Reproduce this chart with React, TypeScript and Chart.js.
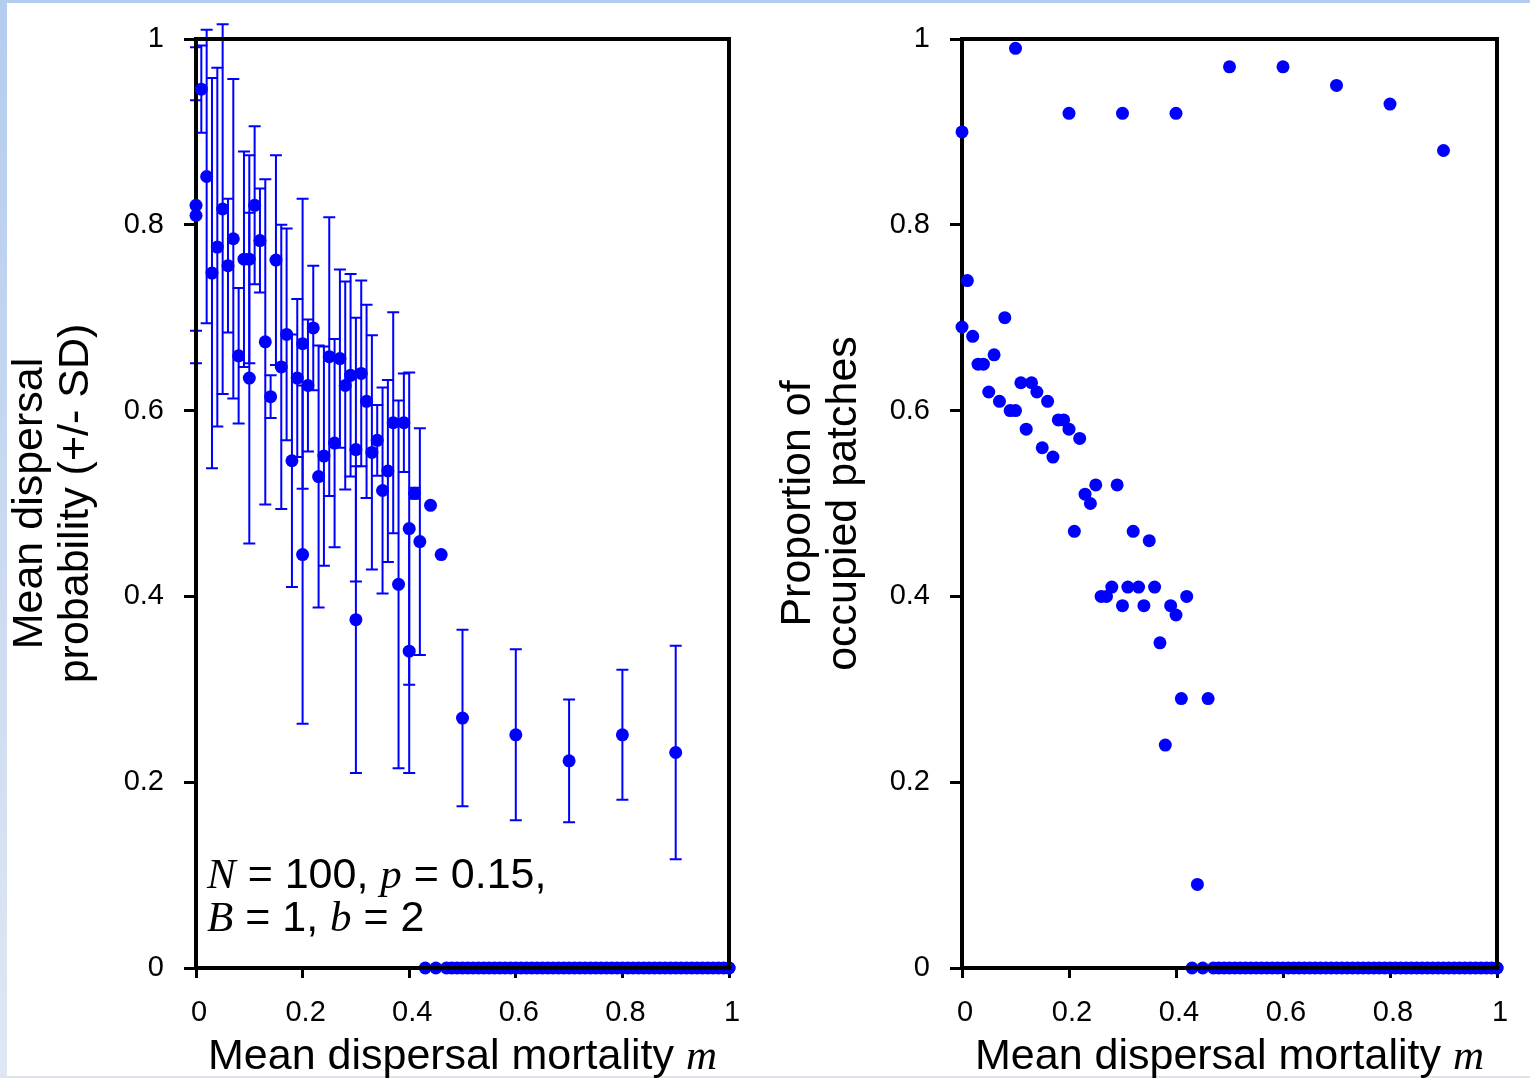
import React, { useEffect, useRef } from 'react';
import { Chart, registerables } from 'chart.js';

Chart.register(...registerables);

// ---------- data ----------
// finely spaced mortality values (one simulation set)
const fineM = [
  0.0, 0.01, 0.02, 0.03, 0.04, 0.05, 0.06, 0.07, 0.08, 0.09,
  0.1, 0.11, 0.12, 0.13, 0.14, 0.15, 0.16, 0.17, 0.18, 0.19,
  0.2, 0.21, 0.22, 0.23, 0.24, 0.25, 0.26, 0.27, 0.28, 0.29,
  0.3, 0.31, 0.32, 0.33, 0.34, 0.35, 0.36, 0.37, 0.38, 0.39,
  0.4, 0.41, 0.42, 0.43, 0.44, 0.45, 0.46,
];
// mortality values where the metapopulation went extinct (both panels at 0)
const extinctM = [
  0.47, 0.48, 0.49, 0.5, 0.51, 0.52, 0.53, 0.54, 0.55, 0.56, 0.57, 0.58, 0.59,
  0.6, 0.61, 0.62, 0.63, 0.64, 0.65, 0.66, 0.67, 0.68, 0.69, 0.7, 0.71, 0.72,
  0.73, 0.74, 0.75, 0.76, 0.77, 0.78, 0.79, 0.8, 0.81, 0.82, 0.83, 0.84, 0.85,
  0.86, 0.87, 0.88, 0.89, 0.9, 0.91, 0.92, 0.93, 0.94, 0.95, 0.96, 0.97, 0.98,
  0.99, 1.0,
];
const extinctValue = [0];
// coarsely spaced mortality values (second simulation set)
const coarseM = [0, 0.1, 0.2, 0.3, 0.4, 0.5, 0.6, 0.7, 0.8, 0.9, 1.0];

const leftFineMean = [
  0.81, 0.946, 0.852, 0.748, 0.776, 0.817, 0.756, 0.785, 0.659, 0.763,
  0.763, 0.821, 0.783, 0.674, 0.615, 0.762, 0.647, 0.682, 0.546, 0.635,
  0.672, 0.627, 0.689, 0.529, 0.551, 0.658, 0.565, 0.656, 0.627, 0.638,
  0.558, 0.64, 0.61, 0.555, 0.568, 0.514, 0.535, 0.587, 0.413, 0.587,
  0.473, 0.511, 0.459, 0, 0.498, 0, 0.445,
];
const leftFineSD = [
  0.124, 0.047, 0.158, 0.21, 0.193, 0.199, 0.072, 0.172, 0.073, 0.116,
  0.112, 0.085, 0.056, 0.175, 0.023, 0.113, 0.153, 0.114, 0.136, 0.085,
  0.156, 0.071, 0.067, 0.141, 0.118, 0.15, 0.112, 0.096, 0.112, 0.109,
  0.142, 0.1, 0.104, 0.126, 0.038, 0.111, 0.098, 0.119, 0.198, 0.053,
  0.168, 0.006, 0.122, 0, 0, 0, 0,
];
const leftCoarseMean = [0.821, 0.635, 0.445, 0.375, 0.341, 0.269, 0.251, 0.223, 0.251, 0.232, 0];
const leftCoarseSD = [0.17, 0.178, 0.182, 0.165, 0.131, 0.095, 0.092, 0.066, 0.07, 0.115, 0];

const rightFineMean = [
  0.69, 0.74, 0.68, 0.65, 0.65, 0.62, 0.66, 0.61, 0.7, 0.6,
  0.6, 0.63, 0.58, 0.63, 0.62, 0.56, 0.61, 0.55, 0.59, 0.59,
  0.58, 0.47, 0.57, 0.51, 0.5, 0.52, 0.4, 0.4, 0.41, 0.52,
  0.39, 0.41, 0.47, 0.41, 0.39, 0.46, 0.41, 0.35, 0.24, 0.39,
  0.38, 0.29, 0.4, 0, 0.09, 0, 0.29,
];
const rightCoarseMean = [0.9, 0.99, 0.92, 0.92, 0.92, 0.97, 0.97, 0.95, 0.93, 0.88, 0];

const tickValues = [0, 0.2, 0.4, 0.6, 0.8, 1];
const tickLabels = ['0', '0.2', '0.4', '0.6', '0.8', '1'];

const xTitleText = 'Mean dispersal mortality ';
const xTitleVar = 'm';
const leftYTitle = ['Mean dispersal', 'probability (+/- SD)'];
const rightYTitle = ['Proportion of', 'occupied patches'];
const annotationLine1 = [
  { t: 'N', it: true }, { t: ' = 100, ', it: false }, { t: 'p', it: true }, { t: ' = 0.15,', it: false },
];
const annotationLine2 = [
  { t: 'B', it: true }, { t: ' = 1, ', it: false }, { t: 'b', it: true }, { t: ' = 2', it: false },
];

// ---------- styling ----------
const BLUE = '#0000ff';
const SANS = '"Liberation Sans", Arial, Helvetica, sans-serif';
const SERIF = '"Liberation Serif", "Times New Roman", serif';
const TITLE_SIZE = 43;

type Pt = { x: number; y: number };
type Err = { x: number; mean: number; sd: number };

function splitPoints(ms: number[], vals: number[]) {
  const pts: Pt[] = [];
  const zeros: Pt[] = [];
  ms.forEach((m, i) => {
    if (vals[i] > 0) pts.push({ x: m, y: vals[i] });
    else zeros.push({ x: m, y: vals[i] });
  });
  return { pts, zeros };
}

function buildErrors(ms: number[], means: number[], sds: number[]): Err[] {
  const out: Err[] = [];
  ms.forEach((m, i) => {
    if (sds[i] > 0) out.push({ x: m, mean: means[i], sd: sds[i] });
  });
  return out;
}

function drawSegments(ctx: CanvasRenderingContext2D, segs: { t: string; it: boolean }[], x: number, y: number, size: number) {
  let cx = x;
  for (const s of segs) {
    ctx.font = s.it ? `italic ${size}px ${SERIF}` : `${size}px ${SANS}`;
    ctx.fillText(s.t, cx, y);
    cx += ctx.measureText(s.t).width;
  }
}

function makeConfig(opts: {
  pts: Pt[];
  zeros: Pt[];
  errors: Err[];
  yTitle: string[];
  yTitlePad: number;
  padRight: number;
  yAxisWidth: number;
  annotate: boolean;
}) {
  const overlay = {
    id: 'overlay',
    beforeDatasetDraw(chart: any, args: any) {
      if (args.index !== 0) return;
      const { ctx, chartArea: ca } = chart;
      const x = chart.scales.x;
      const y = chart.scales.y;
      ctx.save();
      ctx.strokeStyle = BLUE;
      ctx.lineWidth = 2;
      for (const e of opts.errors) {
        const px = x.getPixelForValue(e.x);
        const pt = y.getPixelForValue(e.mean + e.sd);
        const pb = y.getPixelForValue(e.mean - e.sd);
        ctx.beginPath();
        ctx.moveTo(px, pt);
        ctx.lineTo(px, pb);
        ctx.moveTo(px - 6, pt);
        ctx.lineTo(px + 6, pt);
        ctx.moveTo(px - 6, pb);
        ctx.lineTo(px + 6, pb);
        ctx.stroke();
      }
      ctx.strokeStyle = '#000';
      ctx.lineWidth = 4;
      ctx.strokeRect(ca.left, ca.top, ca.right - ca.left, ca.bottom - ca.top);
      ctx.restore();
    },
    afterDraw(chart: any) {
      const { ctx, chartArea: ca } = chart;
      ctx.save();
      ctx.fillStyle = '#000';
      ctx.textBaseline = 'alphabetic';
      ctx.textAlign = 'left';
      ctx.font = `${TITLE_SIZE}px ${SANS}`;
      const w1 = ctx.measureText(xTitleText).width;
      ctx.font = `italic ${TITLE_SIZE}px ${SERIF}`;
      const w2 = ctx.measureText(xTitleVar).width;
      const cx = (ca.left + ca.right) / 2;
      drawSegments(ctx, [{ t: xTitleText, it: false }, { t: xTitleVar, it: true }], cx - (w1 + w2) / 2, 1069, TITLE_SIZE);
      if (opts.annotate) {
        drawSegments(ctx, annotationLine1, 207, 888, 43);
        drawSegments(ctx, annotationLine2, 207, 931, 43);
      }
      ctx.restore();
    },
  };

  const tickFont = { family: SANS, size: 29 };
  return {
    type: 'scatter' as const,
    data: {
      datasets: [
        { data: opts.pts, pointRadius: 6.5, pointHoverRadius: 6.5, backgroundColor: BLUE, borderWidth: 0, clip: false },
        { data: opts.zeros, pointRadius: 6.5, pointHoverRadius: 6.5, backgroundColor: BLUE, borderWidth: 0, clip: false },
      ],
    },
    options: {
      animation: false,
      responsive: false,
      devicePixelRatio: 1,
      events: [],
      layout: { padding: { left: 0, top: 39, right: opts.padRight, bottom: 0 } },
      plugins: { legend: { display: false }, tooltip: { enabled: false } },
      scales: {
        x: {
          type: 'linear',
          min: 0,
          max: 1,
          afterBuildTicks: (s: any) => {
            s.ticks = tickValues.map((v) => ({ value: v }));
          },
          afterFit: (s: any) => {
            s.height = 110;
          },
          ticks: {
            callback: (_v: any, i: number) => tickLabels[i],
            font: tickFont,
            color: '#000',
            padding: 18,
            labelOffset: 3,
            maxRotation: 0,
            autoSkip: false,
          },
          grid: { display: true, drawOnChartArea: false, drawTicks: true, tickLength: 10, tickWidth: 3, tickColor: '#000' },
          border: { display: false },
        },
        y: {
          type: 'linear',
          min: 0,
          max: 1,
          afterBuildTicks: (s: any) => {
            s.ticks = tickValues.map((v) => ({ value: v }));
          },
          afterFit: (s: any) => {
            s.width = opts.yAxisWidth;
          },
          ticks: {
            callback: (_v: any, i: number) => tickLabels[i],
            font: tickFont,
            color: '#000',
            padding: 20,
            autoSkip: false,
          },
          grid: { display: true, drawOnChartArea: false, drawTicks: true, tickLength: 12, tickWidth: 3, tickColor: '#000' },
          border: { display: false },
          title: {
            display: true,
            text: opts.yTitle,
            color: '#000',
            font: { family: SANS, size: TITLE_SIZE, lineHeight: 1.07 },
            padding: { top: opts.yTitlePad, bottom: 0 },
          },
        },
      },
    },
    plugins: [overlay],
  };
}

export default function App() {
  const leftRef = useRef<HTMLCanvasElement>(null);
  const rightRef = useRef<HTMLCanvasElement>(null);

  useEffect(() => {
    const lf = splitPoints(fineM, leftFineMean);
    const lc = splitPoints(coarseM, leftCoarseMean);
    const lx = splitPoints(extinctM, extinctM.map(() => extinctValue[0]));
    const leftErrors = [
      ...buildErrors(fineM, leftFineMean, leftFineSD),
      ...buildErrors(coarseM, leftCoarseMean, leftCoarseSD),
    ];
    const rf = splitPoints(fineM, rightFineMean);
    const rc = splitPoints(coarseM, rightCoarseMean);

    const c1 = new Chart(
      leftRef.current as HTMLCanvasElement,
      makeConfig({
        pts: [...lf.pts, ...lc.pts],
        zeros: [...lf.zeros, ...lx.zeros, ...lc.zeros],
        errors: leftErrors,
        yTitle: leftYTitle,
        yTitlePad: 7,
        padRight: 36,
        yAxisWidth: 196,
        annotate: true,
      }) as any
    );
    const c2 = new Chart(
      rightRef.current as HTMLCanvasElement,
      makeConfig({
        pts: [...rf.pts, ...rc.pts],
        zeros: [...rf.zeros, ...lx.zeros, ...rc.zeros],
        errors: [],
        yTitle: rightYTitle,
        yTitlePad: 10,
        padRight: 33,
        yAxisWidth: 197,
        annotate: false,
      }) as any
    );
    return () => {
      c1.destroy();
      c2.destroy();
    };
  }, []);

  return (
    <div style={{ position: 'absolute', left: 0, top: 0, width: 1530, height: 1078, background: '#ffffff', overflow: 'hidden' }}>
      <div style={{ position: 'absolute', left: 0, top: 0, width: 1530, height: 3, background: '#b4cdee' }} />
      <div style={{ position: 'absolute', left: 0, top: 0, width: 7, height: 1078, background: 'linear-gradient(#b4ccee, #dfe7f3)' }} />
      <div style={{ position: 'absolute', left: 0, top: 1076, width: 1530, height: 2, background: '#dde5f0' }} />
      <canvas ref={leftRef} width={765} height={1078} style={{ position: 'absolute', left: 0, top: 0, width: 765, height: 1078 }} />
      <canvas ref={rightRef} width={765} height={1078} style={{ position: 'absolute', left: 765, top: 0, width: 765, height: 1078 }} />
    </div>
  );
}
